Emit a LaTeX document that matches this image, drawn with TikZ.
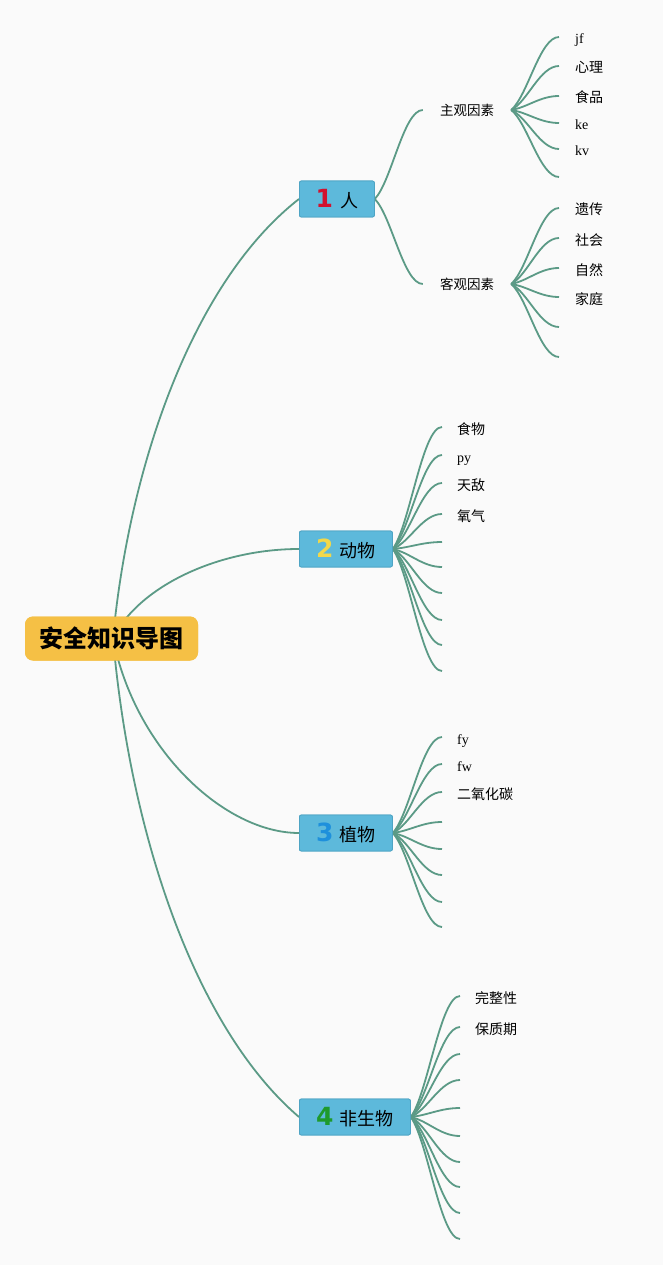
\documentclass[tikz,border=0pt]{standalone}
\usepackage{fontspec}
\newfontfamily\cjk{Noto Sans CJK SC}
\newfontfamily\lat{Liberation Serif}
\newfontfamily\numf{DejaVu Sans}
\usetikzlibrary{calc}
\definecolor{bgc}{HTML}{FAFAFA}
\definecolor{linec}{HTML}{5B9A86}
\definecolor{boxf}{HTML}{5DB9DB}
\definecolor{boxb}{HTML}{4EA4C4}
\definecolor{rootf}{HTML}{F5C045}
\definecolor{n1}{HTML}{D2112E}
\definecolor{n2}{HTML}{F2D84A}
\definecolor{n3}{HTML}{1E90DC}
\definecolor{n4}{HTML}{1E9A2C}
\newcommand\subbranch[2]{\draw[conn] let \p1=(#1), \p2=(#2) in (\p1) .. controls ({\x1+0.35*(\x2-\x1)},{\y1+0.2*(\y2-\y1)}) and ({\x1+0.6*(\x2-\x1)},\y2) .. (\p2);}
\newcommand\numb[2]{{\numf\bfseries\fontsize{25}{25}\selectfont\color{#1}#2}}
\begin{document}
\begin{tikzpicture}[x=1pt,y=-1pt,
  conn/.style={draw=linec, line width=1.8pt},
  mainbox/.style={draw=boxb, fill=boxf, rounded corners=2pt, minimum height=36pt, inner xsep=0pt, inner ysep=0pt, anchor=west, line width=0.8pt, font=\cjk\fontsize{18}{18}\selectfont},
  rootbox/.style={fill=rootf, rounded corners=8pt, minimum width=173pt, minimum height=44pt, inner sep=0pt, font=\cjk\bfseries\fontsize{24}{24}\selectfont},
  subnode/.style={inner xsep=17pt, inner ysep=4pt, font=\cjk\fontsize{13.5}{13.5}\selectfont},
  leaf/.style={anchor=base west, inner sep=0pt, font=\cjk\fontsize{14}{14}\selectfont},
  latleaf/.style={anchor=base west, inner sep=0pt, font=\lat\fontsize{14}{14}\selectfont}
]
\useasboundingbox[fill=bgc] (0,0) rectangle (663,1265);

% main nodes
\node[rootbox] (root) at (111.5,638.5) {安全知识导图};
\coordinate (rc) at (113,638);
\node[mainbox, minimum width=75pt] (ren) at (299,199) {\numb{n1}{1}\hspace{7pt}人\hspace{2pt}};
\node[mainbox, minimum width=93pt] (dw) at (299,549) {\numb{n2}{2}\hspace{6pt}动物\hspace{2pt}};
\node[mainbox, minimum width=93pt] (zw) at (299,833) {\numb{n3}{3}\hspace{6pt}植物\hspace{2pt}};
\node[mainbox, minimum width=111pt] (fsw) at (299,1117) {\numb{n4}{4}\hspace{6pt}非生物\hspace{2pt}};

\node[subnode] (zg) at (467,110) {主观因素};
\node[subnode] (kg) at (467,284) {客观因素};

% leaf end coordinates
\foreach \y [count=\i] in {37,66,96,123,149,177} {\coordinate (a\i) at (559,\y);}
\foreach \y [count=\i] in {208,238,268,297,327,357} {\coordinate (b\i) at (559,\y);}
\foreach \y [count=\i] in {427,455,483,514,542,567,593,620,645,671} {\coordinate (c\i) at (442,\y);}
\foreach \y [count=\i] in {737,764,792,822,849,875,902,927} {\coordinate (d\i) at (442,\y);}
\foreach \y [count=\i] in {996,1027,1054,1080,1108,1136,1162,1187,1213,1239} {\coordinate (e\i) at (460,\y);}

% labels
\node[latleaf] (la1) at (575,37+7) {jf};
\node[leaf] (la2) at (575,66+7) {心理};
\node[leaf] (la3) at (575,96+7) {食品};
\node[latleaf] (la4) at (575,123+7) {ke};
\node[latleaf] (la5) at (575,149+7) {kv};
\node[leaf] (lb1) at (575,208+7) {遗传};
\node[leaf] (lb2) at (575,238+7) {社会};
\node[leaf] (lb3) at (575,268+7) {自然};
\node[leaf] (lb4) at (575,297+7) {家庭};
\node[leaf] (lc1) at (457,427+7) {食物};
\node[latleaf] (lc2) at (457,455+7) {py};
\node[leaf] (lc3) at (457,483+7) {天敌};
\node[leaf] (lc4) at (457,514+7) {氧气};
\node[latleaf] (ld1) at (457,737+7) {fy};
\node[latleaf] (ld2) at (457,764+7) {fw};
\node[leaf] (ld3) at (457,792+7) {二氧化碳};
\node[leaf] (le1) at (475,996+7) {完整性};
\node[leaf] (le2) at (475,1027+7) {保质期};

% connectors
\draw[conn] (rc) .. controls (130,460) and (195,280) .. (ren.west);
\draw[conn] (rc) .. controls (140,585) and (220,549) .. (dw.west);
\draw[conn] (rc) .. controls (135,750) and (225,833) .. (zw.west);
\draw[conn] (rc) .. controls (130,834) and (195,1028) .. (fsw.west);

\subbranch{ren.east}{zg.west}
\subbranch{ren.east}{kg.west}
\foreach \i in {1,...,6} {\subbranch{zg.east}{a\i}}
\foreach \i in {1,...,6} {\subbranch{kg.east}{b\i}}
\foreach \i in {1,...,10} {\subbranch{dw.east}{c\i}}
\foreach \i in {1,...,8} {\subbranch{zw.east}{d\i}}
\foreach \i in {1,...,10} {\subbranch{fsw.east}{e\i}}

% redraw boxes on top of the connectors
\node[rootbox] at (root.center) {安全知识导图};
\node[mainbox, minimum width=75pt] at (299,199) {\numb{n1}{1}\hspace{7pt}人\hspace{2pt}};
\node[mainbox, minimum width=93pt] at (299,549) {\numb{n2}{2}\hspace{6pt}动物\hspace{2pt}};
\node[mainbox, minimum width=93pt] at (299,833) {\numb{n3}{3}\hspace{6pt}植物\hspace{2pt}};
\node[mainbox, minimum width=111pt] at (299,1117) {\numb{n4}{4}\hspace{6pt}非生物\hspace{2pt}};
\end{tikzpicture}
\end{document}
